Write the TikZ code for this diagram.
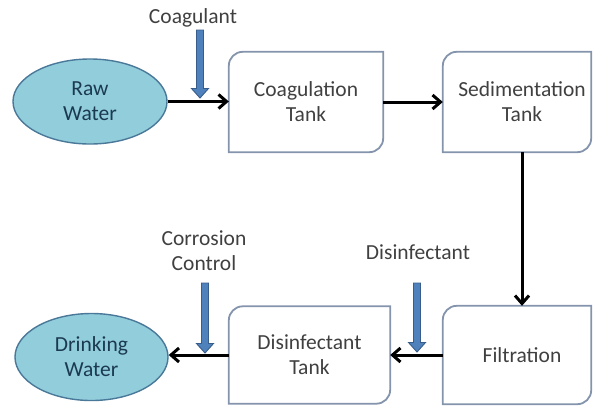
\documentclass[tikz,border=0pt]{standalone}
\usepackage{fontspec}
\setmainfont{Carlito}
\usetikzlibrary{arrows.meta,shapes.geometric,backgrounds}

\definecolor{waterfill}{HTML}{92CDDC}
\definecolor{wateredge}{HTML}{4A7898}
\definecolor{watertext}{HTML}{1B3A50}
\definecolor{tankline}{HTML}{8494AC}
\definecolor{tankfill}{HTML}{FFFFFF}
\definecolor{tanktext}{HTML}{404040}
\definecolor{feedfill}{HTML}{4F81BD}
\definecolor{feededge}{HTML}{385D8A}
\definecolor{notetext}{HTML}{404040}

% tank outline: rounded top-left and bottom-right corners, square elsewhere;
% #2 pulls the right edge in from the node's east side
\newcommand\tankoutline[2]{%
  \filldraw[tankedge] (#1.south west) -- ([yshift=-14pt]#1.north west)
    arc[start angle=180,end angle=90,radius=14pt] -- ([xshift=-#2]#1.north east)
    -- ([xshift=-#2,yshift=14pt]#1.south east)
    arc[start angle=0,end angle=-90,radius=14pt] -- cycle;}

% downward block arrow for a chemical feed: #1 top point, #2 shaft length
\newcommand\feedarrow[2]{%
  \filldraw[feedshape] (#1) ++(-3.5,0) -- ++(7,0) -- ++(0,-#2) -- ++(5,0)
    -- ++(-8.5,-9.5) -- ++(-8.5,9.5) -- ++(5,0) -- cycle;}

\begin{document}
\begin{tikzpicture}[x=1pt,y=1pt,
  txt/.style={font=\fontsize{21.5}{25}\selectfont, align=center},
  water/.style={ellipse, txt, draw=wateredge, line width=1.4pt, fill=waterfill,
                text=watertext, inner sep=0pt},
  tank/.style={rectangle, txt, text=tanktext, inner sep=0pt},
  tankedge/.style={draw=tankline, fill=tankfill, line width=1.8pt},
  flow/.style={line width=3pt, -{Straight Barb[length=8pt,width=14pt]}},
  feedshape/.style={draw=feededge, fill=feedfill, line width=0.9pt, line join=miter},
  note/.style={txt, text=notetext, inner sep=0pt}]
\useasboundingbox (0,0) rectangle (593,-405);

% source and product
\node[water, minimum width=154pt, minimum height=85pt] (raw) at (90,-101.5) {Raw\\Water};
\node[water, minimum width=153pt, minimum height=87pt] (drink) at (91.5,-357) {Drinking\\Water};

% treatment stages
\node[tank, minimum width=154pt, minimum height=100pt] (coag) at (306,-102) {Coagulation\\Tank};
\node[tank, minimum width=158pt, minimum height=100pt] (sed) at (522,-102) {Sedimentation\\Tank};
\node[tank, minimum width=158pt, minimum height=98pt] (filt) at (522,-355) {Filtration};
\node[tank, minimum width=161pt, minimum height=97pt] (dis) at (309.5,-355) {Disinfectant\\Tank};

\begin{scope}[on background layer]
  \tankoutline{coag}{0pt}
  \tankoutline{sed}{10pt}
  \tankoutline{filt}{10pt}
  \tankoutline{dis}{0pt}
\end{scope}

% water flow
\draw[flow] (raw.east) -- (raw.east -| coag.west);
\draw[flow] (coag) -- (sed);
\draw[flow] (sed) -- (filt);
\draw[flow] (filt) -- (dis);
\draw[flow] (dis.west) -- (dis.west -| drink.east);

% chemical feeds
\node[note] (lc) at (193,-18) {Coagulant};
\coordinate (fc) at (200,-30);
\feedarrow{fc}{58.5}
\node[note] (ld) at (418,-252) {Disinfectant};
\coordinate (fd) at (417,-283);
\feedarrow{fd}{59.5}
\node[note] (lr) at (204,-251) {Corrosion\\Control};
\coordinate (fr) at (205,-283);
\feedarrow{fr}{60.5}
\end{tikzpicture}
\end{document}
